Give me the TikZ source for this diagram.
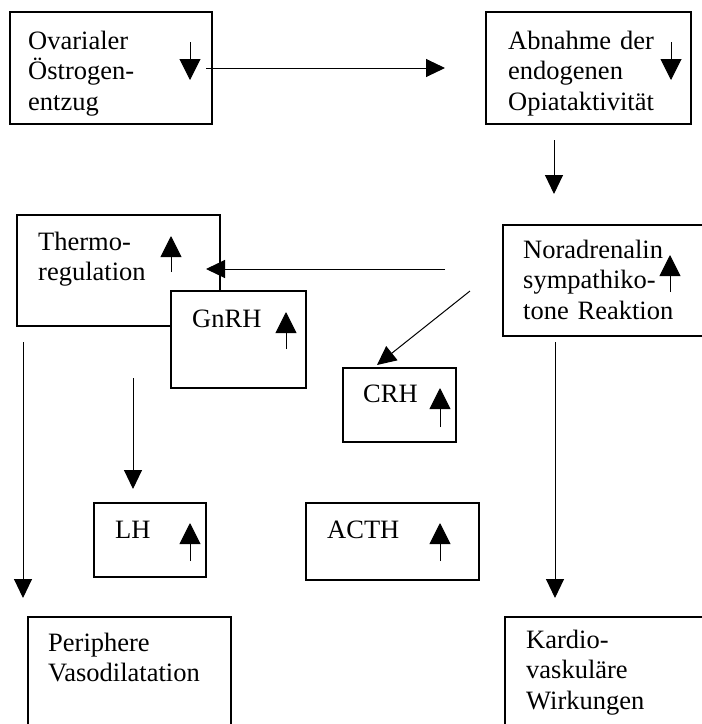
\documentclass[tikz,border=0pt]{standalone}
\usepackage{fontspec}
\setmainfont{Liberation Serif}
\usetikzlibrary{arrows.meta}
\begin{document}
\begin{tikzpicture}[x=1pt,y=-1pt,
  box/.style={draw,line width=1.1pt,inner sep=0pt,outer sep=0pt,fill=white,anchor=north west},
  txt/.style={inner sep=0pt,anchor=base west,align=left,text width=200pt,font=\fontsize{26.5}{30.5}\selectfont},
  conn/.style={line width=1pt,-{Triangle[width=18pt,length=19pt]}},
  ind/.style={line width=1pt,-{Triangle[width=21pt,length=21pt]}}]
\useasboundingbox[fill=white] (0,0) rectangle (702,724);

% boxes
\node[box,minimum width=202pt,minimum height=112pt] (ovar) at (10,12) {};
\node[box,minimum width=205pt,minimum height=112pt] (opiat) at (486,12) {};
\node[box,minimum width=203pt,minimum height=111pt] (thermo) at (17,215) {};
\node[box,minimum width=217pt,minimum height=111pt] (nor) at (503,225) {};
\node[box,minimum width=113pt,minimum height=74pt] (crh) at (343,368) {};
\node[box,minimum width=112pt,minimum height=74pt] (lh) at (94,503) {};
\node[box,minimum width=173pt,minimum height=77pt] (acth) at (306,503) {};
\node[box,minimum width=203pt,minimum height=123pt] (peri) at (28,617) {};
\node[box,minimum width=215pt,minimum height=123pt] (kardio) at (505,617) {};

% connectors
\coordinate (c1a) at (206,68);  \coordinate (c1b) at (445,68);
\coordinate (c2a) at (554,140); \coordinate (c2b) at (554,194);
\coordinate (c3a) at (445,269); \coordinate (c3b) at (206,269);
\coordinate (c4a) at (470,291); \coordinate (c4b) at (377,365);
\coordinate (c5a) at (555,342); \coordinate (c5b) at (555,598);
\coordinate (c6a) at (23,342);  \coordinate (c6b) at (23,598);
\coordinate (c7a) at (133,378); \coordinate (c7b) at (133,489);
\draw[conn] (c1a) -- (c1b);
\draw[conn] (c2a) -- (c2b);
\draw[conn] (c3a) -- (c3b);
\draw[conn] (c4a) -- (c4b);
\draw[conn] (c5a) -- (c5b);
\draw[conn] (c6a) -- (c6b);
\draw[conn] (c7a) -- (c7b);

% GnRH box over thermo box
\node[box,minimum width=135pt,minimum height=97pt] (gnrh) at (171,291) {};

% texts
\node[txt] (tovar) at (28,49) {Ovarialer\\Östrogen-\\entzug};
\node[txt] (topiat) at (508,49) {Abnahme der\\endogenen\\Opiataktivität};
\node[txt] (tthermo) at (38,250) {Thermo-\\regulation};
\node[txt] (tgnrh) at (192,327) {GnRH};
\node[txt] (tnor) at (523,258) {Noradrenalin\\sympathiko-\\tone Reaktion};
\node[txt] (tcrh) at (363,402) {CRH};
\node[txt] (tlh) at (115,538) {LH};
\node[txt] (tacth) at (327,538) {ACTH};
\node[txt] (tperi) at (48,651) {Periphere\\Vasodilatation};
\node[txt] (tkardio) at (526,648) {Kardio-\\vaskuläre\\Wirkungen};

% indicator arrows
\coordinate (i1a) at (190,42);  \coordinate (i1b) at (190,80);
\coordinate (i2a) at (671,42);  \coordinate (i2b) at (671,80);
\coordinate (i3a) at (171,272); \coordinate (i3b) at (171,236);
\coordinate (i4a) at (286,349); \coordinate (i4b) at (286,312);
\coordinate (i5a) at (440,427); \coordinate (i5b) at (440,388);
\coordinate (i6a) at (670,292); \coordinate (i6b) at (670,255);
\coordinate (i7a) at (190,561); \coordinate (i7b) at (190,523);
\coordinate (i8a) at (440,561); \coordinate (i8b) at (440,523);
\draw[ind] (i1a) -- (i1b);
\draw[ind] (i2a) -- (i2b);
\draw[ind] (i3a) -- (i3b);
\draw[ind] (i4a) -- (i4b);
\draw[ind] (i5a) -- (i5b);
\draw[ind] (i6a) -- (i6b);
\draw[ind] (i7a) -- (i7b);
\draw[ind] (i8a) -- (i8b);
\end{tikzpicture}
\end{document}
